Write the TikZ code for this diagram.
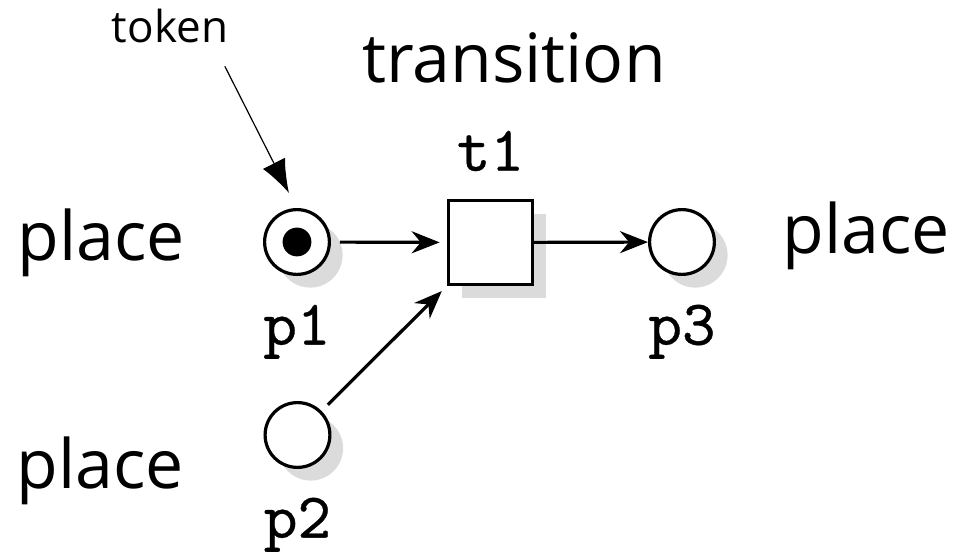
\documentclass[tikz,border=0pt]{standalone}
\usepackage{fontspec}
\usetikzlibrary{arrows.meta,positioning,shadows}
\newfontfamily\labelfont{Open Sans}
\newfontfamily\netfont{lmmono10-regular.otf}[FakeBold=0.5]
\tikzset{
    place/.style = {circle, draw, thick, fill=white, minimum size=16.2pt, inner sep=0pt, drop shadow={shadow xshift=3.3pt, shadow yshift=-3.3pt, fill=black!14, opacity=1}},
    transition/.style = {rectangle, draw, thick, fill=white, minimum size=21pt, inner sep=0pt, drop shadow={shadow xshift=3.4pt, shadow yshift=-3.3pt, fill=black!14, opacity=1}},
    token-dot/.style = {circle, fill=black, minimum size=7.2pt, inner sep=0pt},
    name-label/.style = {font=\fontsize{16}{16}\netfont\bfseries, inner sep=1pt},
    big-label/.style = {font=\fontsize{17}{19}\labelfont, inner sep=0pt},
    small-label/.style = {font=\fontsize{11}{12}\labelfont, inner sep=0pt},
    pre/.style = {-{Stealth[length=7pt,width=5.5pt]}, thick, shorten <=2.2pt, shorten >=1.8pt},
    post/.style = {-{Stealth[length=7pt,width=5.5pt]}, thick},
    pointer/.style = {-{Latex[length=8.3pt,width=6.2pt]}, line width=0.3pt},
}

\begin{document}
\begin{tikzpicture}[x=0.25pt, y=-0.25pt]
\useasboundingbox (0,0) rectangle (958,557);
% net
\node [place] (p1) at (297,242) {};
\node [token-dot] (tok) at (p1) {};
\node [place] (p2) at (297.5,435) {};
\node [transition] (t1) at (490.5,242.5) {};
\node [place] (p3) at (682,242) {};
\node [name-label, below=6pt of p1] (p1-lbl) {p1};
\node [name-label, below=6pt of p2] (p2-lbl) {p2};
\node [name-label, below=6pt of p3] (p3-lbl) {p3};
\node [name-label, above=5.75pt of t1] (t1-lbl) {t1};
\draw [pre] (p1) -- (t1);
\draw [pre] (p2) -- (t1);
\draw [post] (t1) -- (p3);
% annotations
\node [big-label, anchor=base] (trans-txt) at (514,82) {transition};
\node [big-label, anchor=base west] (place-a) at (17,261) {place};
\node [big-label, anchor=base west] (place-b) at (16,489) {place};
\node [big-label, anchor=base west] (place-c) at (782,254) {place};
\node [small-label, anchor=base] (token-txt) at (170,42) {token};
\coordinate (tok-tail) at ([shift={(-4,23)}]token-txt.south east);
\coordinate (tok-tip) at ([shift={(-8,-15)}]p1.north);
\draw [pointer] (tok-tail) -- (tok-tip);
\end{tikzpicture}
\end{document}
